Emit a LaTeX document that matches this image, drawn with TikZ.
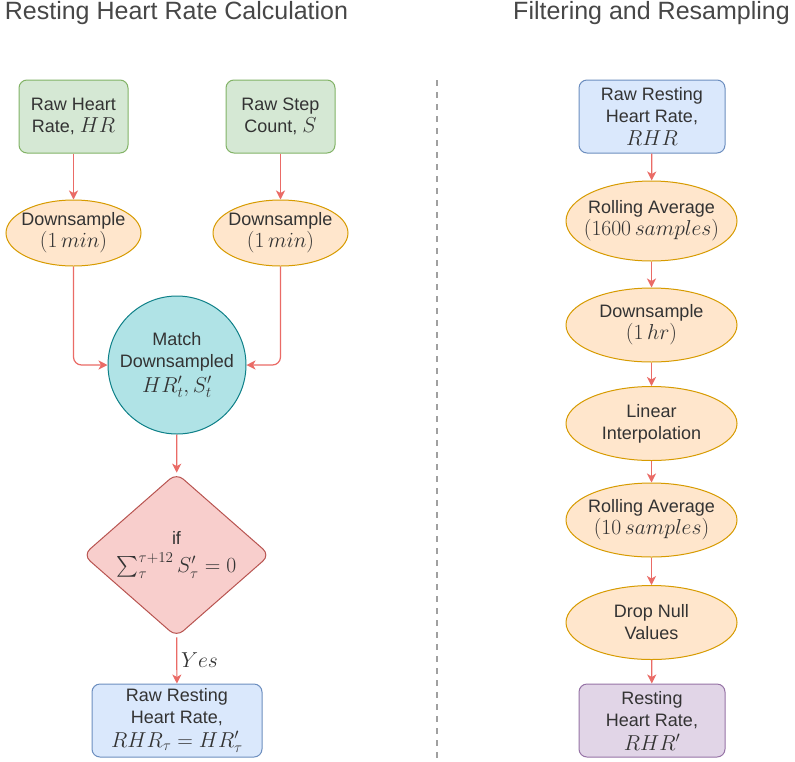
\RequirePackage{fix-cm}
\documentclass[tikz,border=0pt]{standalone}
\usepackage{amsmath}
\usepackage[no-math]{fontspec}
\setmainfont{Liberation Sans}
\DeclareMathSizes{18}{21.6}{15.1}{10.8}
\usetikzlibrary{shapes.geometric,arrows.meta}
\definecolor{txt}{HTML}{333333}
\definecolor{gfill}{HTML}{D5E8D4}\definecolor{gdraw}{HTML}{82B366}
\definecolor{ofill}{HTML}{FFE6CC}\definecolor{odraw}{HTML}{D79B00}
\definecolor{cfill}{HTML}{B0E3E6}\definecolor{cdraw}{HTML}{0E8088}
\definecolor{rfill}{HTML}{F8CECC}\definecolor{rdraw}{HTML}{B85450}
\definecolor{bfill}{HTML}{DAE8FC}\definecolor{bdraw}{HTML}{6C8EBF}
\definecolor{pfill}{HTML}{E1D5E7}\definecolor{pdraw}{HTML}{9673A6}
\definecolor{arrc}{HTML}{EA6B66}
\definecolor{dashc}{HTML}{A0A0A0}
\begin{document}
\begin{tikzpicture}[x=1pt,y=-1pt,
  base/.style={align=center, text=txt, line width=1pt, inner sep=2pt, font=\fontsize{18}{22}\selectfont},
  greenbox/.style={base, rectangle, rounded corners=8pt, fill=gfill, draw=gdraw, minimum width=109pt, minimum height=73pt},
  bluebox/.style={base, rectangle, rounded corners=8pt, fill=bfill, draw=bdraw, minimum height=73pt},
  purplebox/.style={base, rectangle, rounded corners=8pt, fill=pfill, draw=pdraw, minimum height=73pt},
  oval/.style={base, ellipse, fill=ofill, draw=odraw, inner xsep=-25pt, inner ysep=-6pt},
  circ/.style={base, circle, fill=cfill, draw=cdraw, minimum size=138pt, inner sep=-20pt},
  decision/.style={base, diamond, aspect=1.14, fill=rfill, draw=rdraw, minimum width=187pt, minimum height=164pt, inner sep=-30pt, rounded corners=9pt},
  title/.style={text=txt!90, font=\fontsize{25}{28}\selectfont, inner sep=0pt},
  arr/.style={draw=arrc, line width=1.2pt, -{Stealth[length=9pt,width=9pt,inset=2.5pt]}},
  lab/.style={text=txt, font=\fontsize{18}{22}\selectfont, inner sep=0pt}
]
\useasboundingbox (0,0) rectangle (795,761);
\fill[white] (0,0) rectangle (795,761);

\node[title] (t1) at (176.5,13) {Resting Heart Rate Calculation};
\node[title] (t2) at (651.5,13) {Filtering and Resampling};

\coordinate (d1) at (437,80);
\coordinate (d2) at (437,758);
\draw[dashc, line width=2pt, dash pattern=on 6pt off 6pt] (d1) -- (d2);

% left column
\node[greenbox] (hr) at (73.5,116.5) {Raw Heart\\Rate, $HR$};
\node[greenbox] (st) at (280.5,116.5) {Raw Step\\Count, $S$};
\node[oval, minimum width=135pt, minimum height=66pt] (ds1) at (73.5,233) {Downsample\\$(1\,min)$};
\node[oval, minimum width=135pt, minimum height=66pt] (ds2) at (280.5,233) {Downsample\\$(1\,min)$};
\node[circ] (match) at (177,365) {Match\\Downsampled\\[3pt]$HR'_t, S'_t$};
\node[decision] (dec) at (176.5,555) {if\\[6pt]$\textstyle\sum_{\tau}^{\tau+12} S'_{\tau}=0$};
\node[bluebox, minimum width=170pt] (rraw) at (177,720.5) {Raw Resting\\Heart Rate,\\[2pt]$RHR_\tau = HR'_\tau$};
\node[lab, anchor=west] (yes) at (181,660) {$Yes$};

\draw[arr] (hr) -- (ds1);
\draw[arr] (st) -- (ds2);
\draw[arr, rounded corners=8pt] (ds1.south) |- (match.west);
\draw[arr, rounded corners=8pt] (ds2.south) |- (match.east);
\draw[arr] (match) -- (dec);
\draw[arr] (dec) -- (rraw);

% right column
\node[bluebox, minimum width=146pt] (rhr) at (652,116.5) {Raw Resting\\Heart Rate,\\[1pt]$RHR$};
\node[oval, minimum width=171pt, minimum height=80pt] (ra1) at (651.5,221) {Rolling Average\\$(1600\,samples)$};
\node[oval, minimum width=171pt, minimum height=74pt] (ds3) at (651.5,325) {Downsample\\$(1\,hr)$};
\node[oval, minimum width=171pt, minimum height=74pt] (li) at (651.5,423.5) {Linear\\Interpolation};
\node[oval, minimum width=171pt, minimum height=74pt] (ra2) at (651.5,520) {Rolling Average\\$(10\,samples)$};
\node[oval, minimum width=171pt, minimum height=74pt] (dn) at (651.5,622.5) {Drop Null\\Values};
\node[purplebox, minimum width=146pt] (res) at (652,720.5) {Resting\\Heart Rate,\\[2pt]$RHR'$};

\draw[arr] (rhr) -- (ra1);
\draw[arr] (ra1) -- (ds3);
\draw[arr] (ds3) -- (li);
\draw[arr] (li) -- (ra2);
\draw[arr] (ra2) -- (dn);
\draw[arr] (dn) -- (res);
\end{tikzpicture}
\end{document}
